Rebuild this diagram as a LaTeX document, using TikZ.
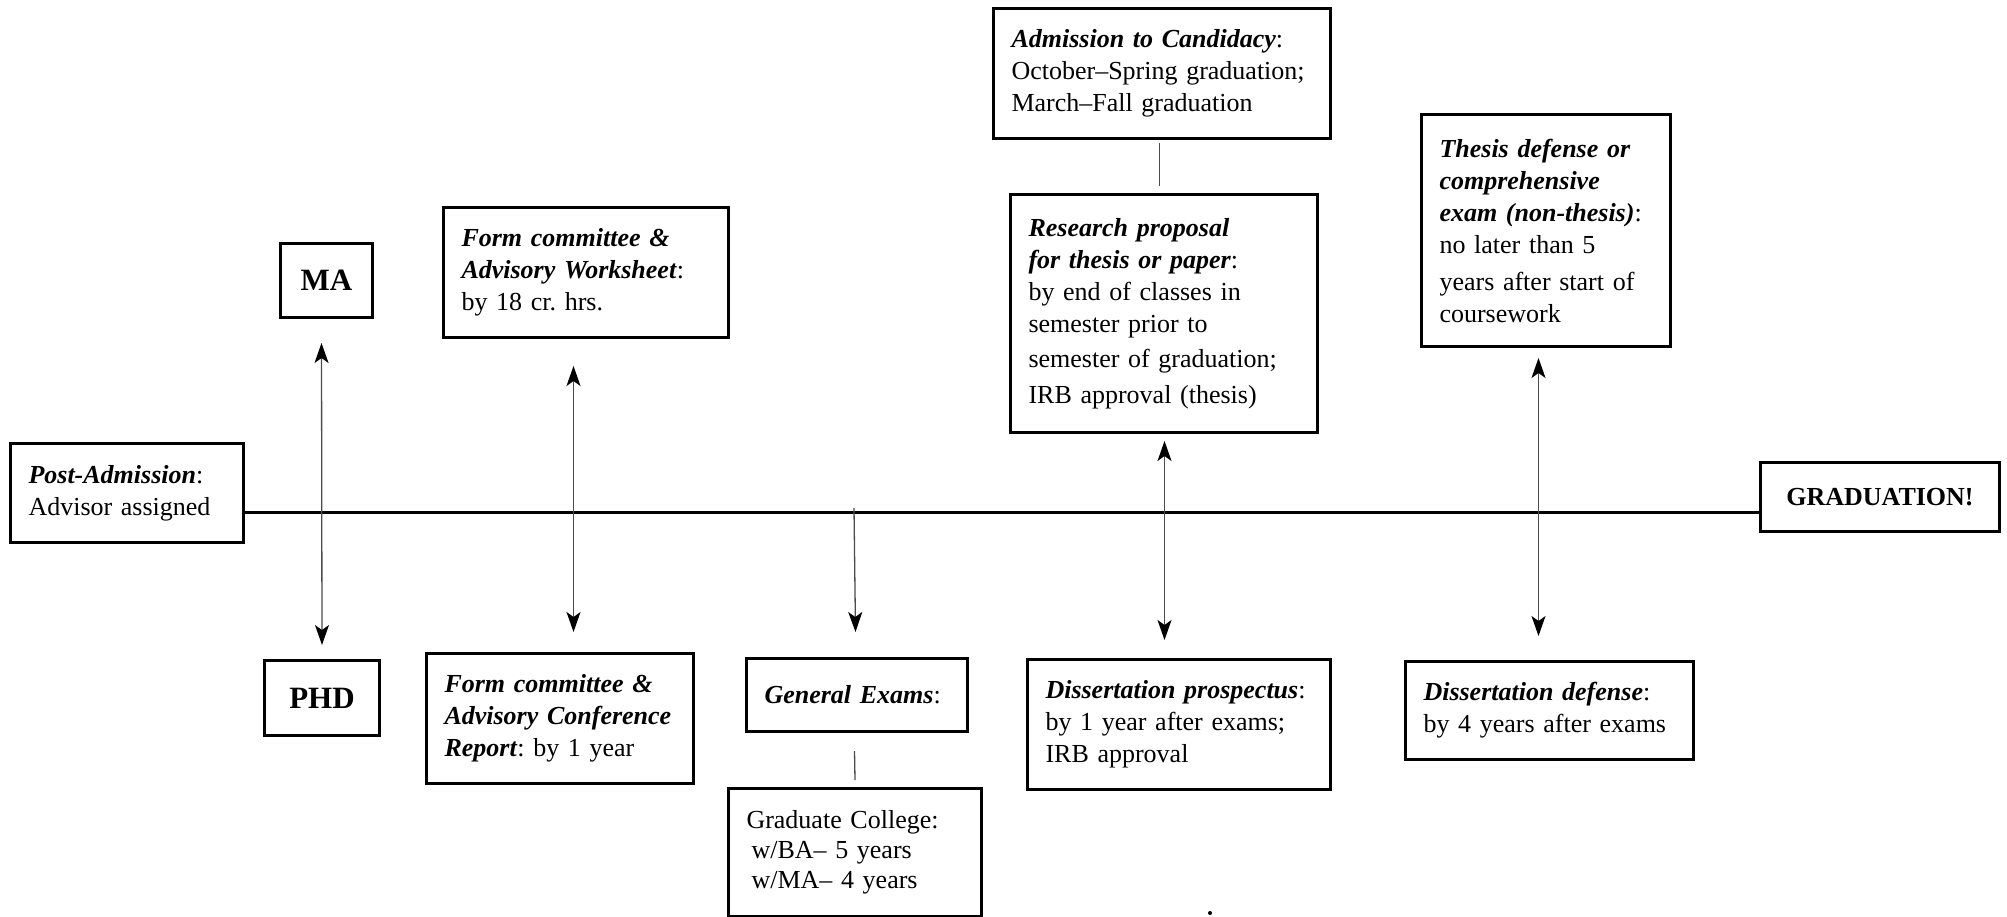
\documentclass[tikz,border=0pt]{standalone}
\usepackage{fontspec}
\setmainfont{Liberation Serif}
\usetikzlibrary{arrows.meta}
\newcommand{\bi}[1]{\textbf{\textit{#1}}}
\frenchspacing
\begin{document}
\begin{tikzpicture}[x=1pt,y=-1pt,
  box/.style={draw, line width=3pt, inner xsep=18pt, inner ysep=0pt, align=left,
    font=\fontsize{26}{32}\selectfont, anchor=north west},
  bigbox/.style={draw, line width=3pt, inner sep=0pt, align=center, anchor=north west},
  conn/.style={line width=1.3pt, draw=black!70},
  arr/.style={conn, -{Stealth[length=20pt,width=14pt,inset=5pt,color=black]}},
  darr/.style={conn, {Stealth[length=20pt,width=14pt,inset=5pt,color=black]}-{Stealth[length=20pt,width=14pt,inset=5pt,color=black]}},
  timeline/.style={line width=3pt}
]
\useasboundingbox (0,0) rectangle (2007,916);

% boxes
\node[box, minimum width=233, minimum height=99, text width=197] (post) at (9,442)
  {\bi{Post-Admission}:\\Advisor assigned};
\node[bigbox, minimum width=92, minimum height=74, font=\fontsize{31}{36}\selectfont\bfseries] (ma) at (279,242) {MA};
\node[bigbox, minimum width=115, minimum height=75, font=\fontsize{31}{36}\selectfont\bfseries] (phd) at (263,659) {PHD};
\node[box, minimum width=285, minimum height=130, text width=249] (ws) at (442,206)
  {\bi{Form committee \&}\\\bi{Advisory Worksheet}:\\by 18 cr. hrs.};
\node[box, minimum width=267, minimum height=130, text width=231] (conf) at (425,652)
  {\bi{Form committee \&}\\\bi{Advisory Conference}\\\bi{Report}: by 1 year};
\node[box, minimum width=221, minimum height=73, text width=185] (genex) at (745,657)
  {\bi{General Exams}:};
\node[box, minimum width=253, minimum height=128, text width=217, font=\fontsize{26}{30}\selectfont] (gradcol) at (727,787)
  {Graduate College:\\\hspace*{5pt}w/BA-- 5 years\\\hspace*{5pt}w/MA-- 4 years};
\node[box, minimum width=337, minimum height=130, text width=301] (adm) at (992,7)
  {\bi{Admission to Candidacy}:\\October--Spring graduation;\\March--Fall graduation};
\node[box, minimum width=307, minimum height=238, text width=271] (res) at (1009,193)
  {\bi{Research proposal}\\\bi{for thesis or paper}:\\by end of classes in\\semester prior to\\[3pt]semester of graduation;\\[4pt]IRB approval (thesis)};
\node[box, minimum width=303, minimum height=130, text width=267] (prosp) at (1026,658)
  {\bi{Dissertation prospectus}:\\by 1 year after exams;\\IRB approval};
\node[box, minimum width=249, minimum height=232, text width=213] (thesis) at (1420,113)
  {\bi{Thesis defense or}\\\bi{comprehensive}\\\bi{exam (non-thesis)}:\\no later than 5\\[5pt]years after start of\\coursework};
\node[box, minimum width=288, minimum height=98, text width=252] (ddef) at (1404,660)
  {\bi{Dissertation defense}:\\by 4 years after exams};
\node[bigbox, minimum width=239, minimum height=69, font=\fontsize{26}{30}\selectfont\bfseries] (grad) at (1759,461) {GRADUATION!};

% timeline
\draw[timeline] ([yshift=-19.5pt]post.east) -- ([yshift=-15.5pt]grad.west);

% connectors
\draw[darr] ([xshift=-5pt,yshift=-24pt]ma.south) -- ([yshift=14pt]phd.north);
\draw[darr] ([xshift=-12.5pt,yshift=-27pt]ws.south) -- ([xshift=13.5pt,yshift=20pt]conf.north);
\coordinate (gtop) at (854,508);
\draw[arr] (gtop) -- ([xshift=-1.5pt,yshift=25pt]genex.north);
\draw[conn] ([xshift=-2.5pt,yshift=-18pt]genex.south) -- ([yshift=7pt]gradcol.north);
\draw[conn] ([xshift=-2.5pt,yshift=-3pt]adm.south) -- ([xshift=-4.5pt,yshift=7pt]res.north);
\draw[darr] ([xshift=0.5pt,yshift=-7pt]res.south) -- ([xshift=-14.5pt,yshift=18pt]prosp.north);
\draw[darr] ([xshift=-7.5pt,yshift=-10pt]thesis.south) -- ([xshift=-11pt,yshift=24pt]ddef.north);

% stray mark
\fill (1210,913) circle (2pt);
\end{tikzpicture}
\end{document}
